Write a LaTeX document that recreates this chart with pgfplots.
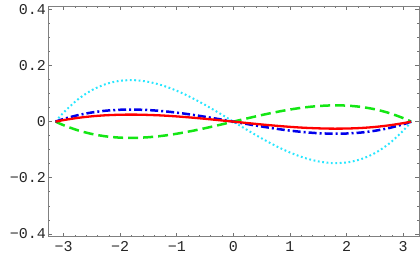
\documentclass[border=0pt]{standalone}
\usepackage{pgfplots}
\pgfplotsset{compat=1.18}
\usepackage{pgfplotstable}
\usepackage{fontspec}
\newfontfamily\monofont{Liberation Mono}
\pgfplotstableread{
x c b r g
-3.1416 0 0 0 0
-3.0 0.0324 0.0094 0.0055 -0.0127
-2.75 0.0787 0.0229 0.0133 -0.0308
-2.5 0.1122 0.0326 0.0190 -0.0440
-2.25 0.1341 0.0390 0.0227 -0.0526
-2.0 0.1456 0.0423 0.0246 -0.0571
-1.75 0.1477 0.0429 0.0250 -0.0579
-1.5 0.1417 0.0412 0.0239 -0.0555
-1.25 0.1288 0.0374 0.0218 -0.0505
-1.0 0.1100 0.0320 0.0186 -0.0431
-0.75 0.0866 0.0252 0.0146 -0.0339
-0.5 0.0596 0.0173 0.0101 -0.0234
-0.25 0.0304 0.0088 0.0051 -0.0119
0 0 0 0 0
0.25 -0.0304 -0.0088 -0.0051 0.0119
0.5 -0.0596 -0.0173 -0.0101 0.0234
0.75 -0.0866 -0.0252 -0.0146 0.0339
1.0 -0.1100 -0.0320 -0.0186 0.0431
1.25 -0.1288 -0.0374 -0.0218 0.0505
1.5 -0.1417 -0.0412 -0.0239 0.0555
1.75 -0.1477 -0.0429 -0.0250 0.0579
2.0 -0.1456 -0.0423 -0.0246 0.0571
2.25 -0.1341 -0.0390 -0.0227 0.0526
2.5 -0.1122 -0.0326 -0.0190 0.0440
2.75 -0.0787 -0.0229 -0.0133 0.0308
3.0 -0.0324 -0.0094 -0.0055 0.0127
3.1416 0 0 0 0
}\datatable
\begin{document}
\begin{tikzpicture}
\useasboundingbox (0,0) rectangle (420pt,260pt);
\begin{axis}[
  at={(48.3pt,23.3pt)}, anchor=south west,
  scale only axis, width=370.7pt, height=230.7pt,
  xmin=-3.27, xmax=3.28, ymin=-0.41, ymax=0.412,
  axis line style={draw=black!50, line width=0.8pt},
  tick style={draw=black!55, line width=0.6pt},
  tick align=inside,
  major tick length=4pt, minor tick length=2pt,
  xtick={-3,-2,-1,0,1,2,3},
  xticklabels={−3,−2,−1,0,1,2,3},
  minor x tick num=4,
  ytick={-0.4,-0.2,0,0.2,0.4},
  yticklabels={−0.4,−0.2,0,0.2,0.4},
  minor y tick num=3,
  ticklabel style={font=\monofont\fontsize{15}{15}\selectfont, text=black!85},
  xticklabel style={yshift=-1pt},
  yticklabel style={xshift=1pt},
]
\addplot[cyan!85!blue!60!white, draw={rgb,255:red,40;green,230;blue,255}, line width=2pt, dash pattern=on 1.8pt off 2.6pt, line cap=butt, smooth] table[x=x,y=c]{\datatable};
\addplot[draw={rgb,255:red,20;green,230;blue,20}, line width=2.5pt, dash pattern=on 10pt off 5pt, smooth] table[x=x,y=g]{\datatable};
\addplot[draw={rgb,255:red,0;green,0;blue,235}, line width=2.5pt, dash pattern=on 8pt off 3pt on 2pt off 3pt, smooth] table[x=x,y=b]{\datatable};
\addplot[draw={rgb,255:red,255;green,0;blue,0}, line width=2.3pt, smooth] table[x=x,y=r]{\datatable};
\end{axis}
\end{tikzpicture}
\end{document}
